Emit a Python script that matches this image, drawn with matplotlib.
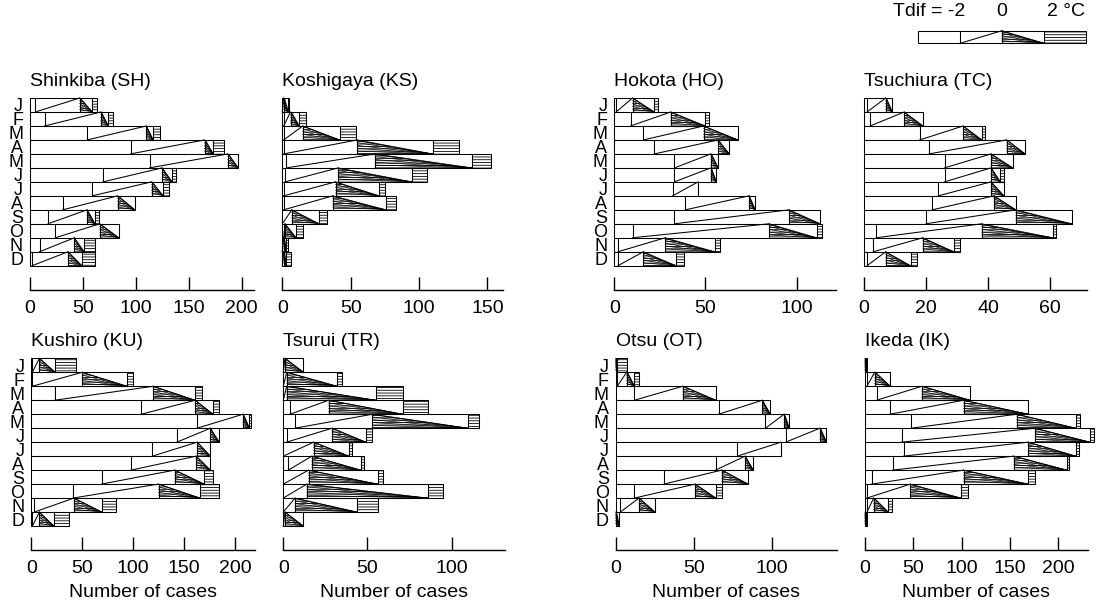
"""Monthly number of cases by Tdif class for eight stations (stacked horizontal bars)."""

import matplotlib
matplotlib.use("Agg")
import matplotlib.pyplot as plt
import numpy as np
from matplotlib.patches import Polygon

plt.rcParams["font.family"] = ["Liberation Sans", "DejaVu Sans"]
plt.rcParams["hatch.color"] = "black"
plt.rcParams["hatch.linewidth"] = 0.6

MONTHS = ["J", "F", "M", "A", "M", "J", "J", "A", "S", "O", "N", "D"]
TDIF_LABELS = ["-2", "0", "2"]

# counts per month: [Tdif < -2, -2..0, 0..2, > 2]
SHINKIBA = [[5, 42, 12, 4], [14, 53, 7, 4], [54, 56, 6, 7], [95, 70, 8, 10],
            [113, 74, 10, 0], [69, 56, 9, 4], [59, 56, 11, 5], [31, 52, 16, 0],
            [17, 37, 7, 4], [24, 42, 18, 0], [9, 33, 9, 10], [2, 34, 13, 12]]
KOSHIGAYA = [[0, 1, 3, 1], [1, 5, 6, 5], [1, 14, 27, 12], [1, 54, 55, 19],
             [3, 65, 71, 14], [2, 39, 54, 11], [1, 38, 32, 4], [1, 36, 39, 7],
             [0, 7, 20, 6], [1, 1, 8, 5], [0, 1, 2, 1], [0, 1, 2, 3]]
HOKOTA = [[1, 9, 12, 2], [9, 22, 19, 2], [16, 33, 19, 0], [22, 35, 6, 0],
          [33, 20, 4, 0], [33, 20, 3, 0], [32, 14, 0, 0], [39, 35, 3, 0],
          [33, 63, 17, 0], [10, 75, 26, 3], [2, 26, 27, 3], [2, 14, 18, 4]]
TSUCHIURA = [[1, 6, 2, 0], [2, 11, 6, 0], [18, 14, 6, 1], [21, 25, 6, 0],
             [26, 15, 7, 0], [26, 15, 3, 1], [24, 17, 4, 0], [22, 20, 7, 0],
             [20, 29, 18, 0], [4, 34, 23, 1], [3, 16, 10, 2], [1, 6, 8, 2]]
KUSHIRO = [[1, 7, 15, 21], [1, 49, 44, 6], [23, 97, 41, 7], [108, 53, 17, 6],
           [163, 45, 6, 2], [143, 33, 8, 0], [119, 44, 13, 0], [98, 64, 14, 0],
           [69, 72, 29, 8], [41, 84, 41, 18], [3, 39, 27, 14], [1, 7, 14, 15]]
TSURUI = [[0, 1, 11, 0], [0, 2, 30, 3], [0, 2, 53, 16], [4, 23, 44, 15],
          [7, 46, 57, 6], [2, 27, 20, 4], [0, 18, 21, 2], [3, 14, 29, 2],
          [0, 15, 41, 3], [0, 14, 72, 9], [0, 7, 37, 12], [0, 1, 11, 0]]
OTSU = [[0, 0, 1, 6], [1, 6, 5, 3], [12, 31, 21, 0], [66, 28, 5, 0],
        [96, 12, 3, 0], [109, 22, 4, 0], [78, 28, 0, 0], [64, 19, 5, 0],
        [31, 37, 17, 0], [12, 39, 13, 4], [3, 12, 10, 0], [0, 0, 2, 0]]
IKEDA = [[0, 0, 1, 1], [2, 8, 16, 0], [12, 47, 50, 0], [26, 76, 67, 0],
         [48, 109, 61, 4], [38, 138, 57, 4], [40, 129, 49, 3], [29, 125, 55, 2],
         [7, 95, 67, 7], [2, 45, 52, 8], [2, 7, 15, 4], [0, 0, 1, 1]]

W, H = 1099, 601
LW = 0.75
FS = 14

# (title, data, left px of x=0, px per case, right end px, row, ticks, month labels)
PANELS = [
    ("Shinkiba (SH)", SHINKIBA, 30.0, 1.058, 254, 0, [0, 50, 100, 150, 200], True),
    ("Koshigaya (KS)", KOSHIGAYA, 282.3, 1.367, 503, 0, [0, 50, 100, 150], False),
    ("Hokota (HO)", HOKOTA, 614.3, 1.823, 836, 0, [0, 50, 100], True),
    ("Tsuchiura (TC)", TSUCHIURA, 864.0, 3.1, 1087, 0, [0, 20, 40, 60], False),
    ("Kushiro (KU)", KUSHIRO, 31.3, 1.018, 255, 1, [0, 50, 100, 150, 200], True),
    ("Tsurui (TR)", TSURUI, 283.3, 1.683, 505, 1, [0, 50, 100], False),
    ("Otsu (OT)", OTSU, 615.7, 1.56, 836.7, 1, [0, 50, 100], True),
    ("Ikeda (IK)", IKEDA, 865.0, 0.967, 1088, 1, [0, 50, 100, 150, 200], False),
]
# per row: top of bars, bottom of bars, x-axis line (px)
ROWS = [(98.0, 265.7, 290.0), (358.3, 526.0, 550.0)]


def draw_bars(ax, counts):
    c = np.asarray(counts, dtype=float)
    y = np.arange(len(c))
    edges = np.hstack([np.zeros((len(c), 1)), np.cumsum(c, axis=1)])
    kw = dict(height=1.0, color="white", edgecolor="black", linewidth=LW, clip_on=False)
    for k in range(4):
        ax.barh(y, c[:, k], left=edges[:, k], hatch="------" if k == 3 else None, **kw)
    for i in y:
        b1, b2, b3 = edges[i, 1], edges[i, 2], edges[i, 3]
        top, bot = i - 0.5, i + 0.5
        if b2 > b1:
            ax.plot([b1, b2], [bot, top], color="black", lw=LW, clip_on=False)
        if b3 > b2:
            # hatched wedge narrowing to the lower right corner
            ax.add_patch(Polygon([(b2, top), (b2, bot), (b3, bot)], closed=True,
                                 facecolor="none", edgecolor="black", linewidth=LW,
                                 hatch="-------", clip_on=False))
            for f in np.linspace(0, 1, 5, endpoint=False):
                ax.plot([b2, b3], [top + f, bot], color="black", lw=0.5, clip_on=False)


fig = plt.figure(figsize=(W / 100, H / 100), dpi=100)

for title, data, left, scale, right, row, ticks, show_months in PANELS:
    top, bars_bottom, axis_y = ROWS[row]
    unit = (bars_bottom - top) / 12
    ax = fig.add_axes([left / W, 1 - axis_y / H, (right - left) / W, (axis_y - top) / H])
    draw_bars(ax, data)
    ax.set_xlim(0, (right - left) / scale)
    ax.set_ylim(11.5 + (axis_y - bars_bottom) / unit, -0.5)
    for side in ("top", "right", "left"):
        ax.spines[side].set_visible(False)
    ax.spines["bottom"].set_linewidth(1.0)
    ax.set_xticks(ticks)
    ax.tick_params(axis="x", direction="in", length=9.5, width=1.0, pad=7, labelsize=FS)
    ax.set_yticks(range(12))
    if show_months:
        ax.set_yticklabels(MONTHS, fontsize=13)
    else:
        ax.set_yticklabels([])
    ax.tick_params(axis="y", length=0, pad=5)
    ax.set_title(title, loc="left", fontsize=FS, pad=9, x=0.0)
    if row == 1:
        ax.set_xlabel("Number of cases", fontsize=FS, labelpad=5)

# legend bar
lax = fig.add_axes([918.3 / W, 1 - 43.3 / H, (1085.7 - 918.3) / W, 12.6 / H])
draw_bars(lax, [[1, 1, 1, 1]])
lax.set_xlim(0, 4)
lax.set_ylim(0.5, -0.5)
lax.axis("off")
lax.text(1.12, -2.0, "Tdif = " + TDIF_LABELS[0], ha="right", va="center", fontsize=FS)
lax.text(2.0, -2.0, TDIF_LABELS[1], ha="center", va="center", fontsize=FS)
lax.text(3.07, -2.0, TDIF_LABELS[2] + " °C", ha="left", va="center", fontsize=FS)

fig.savefig("out.png", dpi=100)
